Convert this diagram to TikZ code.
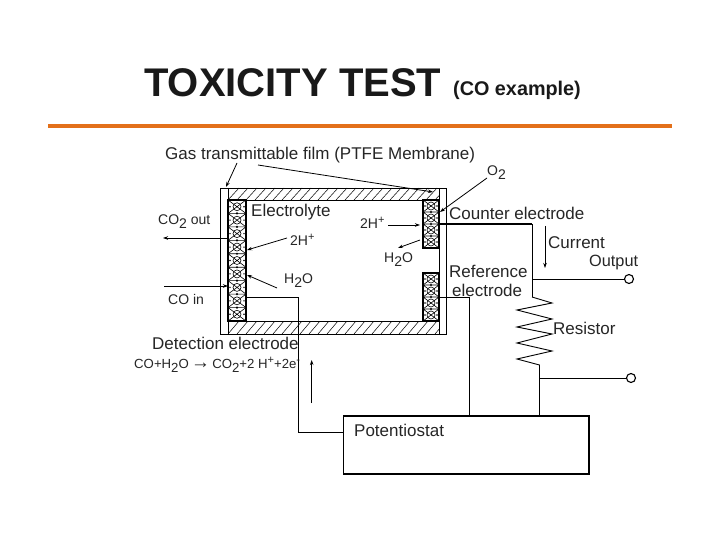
\documentclass[tikz,border=0pt]{standalone}
\usepackage{fontspec}
\setmainfont{Liberation Sans}
\usetikzlibrary{arrows.meta}
\definecolor{rulecol}{HTML}{E3701A}
\newcommand{\dn}[1]{\raisebox{-4pt}{#1}}
\newcommand{\up}[1]{\raisebox{5pt}{\fontsize{11}{11}\selectfont #1}}
\newcommand{\bigarrow}{\fontsize{19}{16}\selectfont\char"2192\fontsize{13.2}{16}\selectfont}
\tikzset{
  lbl/.style={anchor=west,inner sep=0pt,font=\fontsize{17}{18}\selectfont,text=black!85},
  lbls/.style={lbl,font=\fontsize{14}{16}\selectfont},
  wire/.style={draw=black,line width=0.9pt},
  heavy/.style={draw=black,line width=1.6pt},
  arr/.style={draw=black,line width=0.8pt,-{Stealth[length=5pt,width=3.5pt]}},
  term/.style={circle,draw=black,line width=1.1pt,fill=white,minimum size=9pt,inner sep=0pt},
  hatchline/.style={draw=black,line width=0.5pt},
  cellline/.style={draw=black,line width=0.6pt}
}
\newcommand{\electrode}[4]{% x1 x2 y1 y2
  \pgfmathsetmacro{\cellh}{(#4-#3)/round((#4-#3)/13)}
  \fill[white] (#1,#3) rectangle (#2,#4);
  \draw[line width=1.1pt] (#1,#3) rectangle (#2,#4);
  \pgfmathtruncatemacro{\ncell}{round((#4-#3)/13)-1}
  \foreach \i in {0,...,\ncell}{
    \pgfmathsetmacro{\ya}{#3+\i*\cellh}
    \pgfmathsetmacro{\yb}{\ya+\cellh}
    \pgfmathsetmacro{\xm}{(#1+#2)/2}
    \pgfmathsetmacro{\ym}{(\ya+\yb)/2}
    \draw[cellline] (#1,\ya) -- (#2,\yb) (#2,\ya) -- (#1,\yb) (#1,\ya) -- (#2,\ya);
    \draw[cellline] (\xm,\ym) circle (4);
    \fill (\xm,\ya) circle (1.2);
    \fill (#1+2,\ym) circle (0.8) (#2-2,\ym) circle (0.8);
  }
}
\newcommand{\hatchband}[4]{% x1 x2 y1 y2
  \begin{scope}
    \clip (#1,#3) rectangle (#2,#4);
    \foreach \x in {#1,\the\numexpr#1+9\relax,...,\the\numexpr#2+14\relax}
      \draw[hatchline] (\x,#4) -- (\x+11,#3);
  \end{scope}
  \draw[line width=0.9pt] (#1,#3) rectangle (#2,#4);
}
\begin{document}
\begin{tikzpicture}[x=1pt,y=-1pt]
\useasboundingbox (0,0) rectangle (720,540);
\fill[white] (0,0) rectangle (720,540);

% title
\node[anchor=base west,inner sep=0pt,font=\fontsize{40}{42}\selectfont\bfseries,text=black!90] (title) at (144,97) {TOXICITY TEST};
\node[anchor=base west,inner sep=0pt,font=\fontsize{19.8}{22}\selectfont\bfseries,text=black!90] (subtitle) at (453,96) {(CO example)};
\draw[draw=rulecol,line width=4pt] (48,126) -- (672,126);

% cell body
\hatchband{228}{439}{188}{200}
\hatchband{228}{439}{321}{334}
\draw[wire] (220.7,188) rectangle (446.7,334);
\draw[wire] (228,188) -- (228,334);
\draw[wire] (439,188) -- (439,334);
\electrode{228}{246}{200}{321}
\electrode{423}{439}{200}{248}
\electrode{423}{439}{273}{321}

% potentiostat and terminals
\node[draw=black,line width=1.5pt,minimum width=245.3pt,minimum height=58pt,anchor=north west,inner sep=0pt] (pot) at (342.7,415) {};
\node[lbl] (potlabel) at (354,430) {Potentiostat};
\node[term] (t1) at (629,279) {};
\node[term] (t2) at (631,378) {};

% wire coordinates
\coordinate (ctr) at (439,224);
\coordinate (ctrk) at (532,224);
\coordinate (junc1) at (532,279);
\coordinate (rtop) at (532,297);
\coordinate (rbot) at (539.5,365);
\coordinate (junc2) at (539.5,378);
\coordinate (pr) at (539.5,415);
\coordinate (ref) at (439,297);
\coordinate (refk) at (469,297);
\coordinate (refp) at (469,415);
\coordinate (det) at (246,297);
\coordinate (detk) at (298,297);
\coordinate (detb) at (298,432);
\coordinate (detp) at (342.7,432);

\draw[heavy] (ctr) -- (ctrk);
\draw[wire] (ctrk) -- (rtop);
\draw[wire] (junc1) -- (t1);
\draw[wire] (rtop) -- (552,303) -- (517,310) -- (552,319) -- (517,327) -- (552,334) -- (517,343) -- (552,351) -- (517,359) -- (rbot) -- (pr);
\draw[wire] (junc2) -- (t2);
\draw[wire] (ref) -- (refk) -- (refp);
\draw[wire] (det) -- (detk) -- (detb) -- (detp);

% labels
\node[lbl] (film) at (165,155) {Gas transmittable film (PTFE Membrane)};
\node[lbls] (o2) at (487,173) {O\dn{2}};
\node[lbl] (electrolyte) at (251,212) {Electrolyte};
\node[lbl] (counter) at (449,213) {Counter electrode};
\node[lbls] (co2out) at (158,222) {CO\dn{2} out};
\node[lbls] (hplusr) at (360,223) {2H\up{+}};
\node[lbls] (hplusl) at (290,240) {2H\up{+}};
\node[lbl] (current) at (548,243) {Current};
\node[lbl,font=\fontsize{16.3}{18}\selectfont] (output) at (589,263) {Output};
\node[lbls] (h2or) at (384,260) {H\dn{2}O};
\node[lbls] (h2ol) at (284,281) {H\dn{2}O};
\node[lbl] (refa) at (449,271) {Reference};
\node[lbl] (refb) at (452,290) {electrode};
\node[lbls] (coin) at (168,299) {CO in};
\node[lbl] (res) at (553,328) {Resistor};
\node[lbl] (detlab) at (152,343) {Detection electrode};
\node[lbl,font=\fontsize{13.2}{16}\selectfont] (eqn) at (134,365) {CO+H\dn{2}O\,\bigarrow\,CO\dn{2}+2 H\up{+}+2e\up{-}};

% leads and arrows
\coordinate (filla) at (237,163);
\coordinate (fillb) at (226,187);
\coordinate (fillc) at (258,165);
\coordinate (filld) at (433,192);
\draw[arr] (filla) -- (fillb);
\draw[arr] (fillc) -- (filld);
\coordinate (o2a) at (487,178);
\coordinate (o2b) at (440,212);
\draw[arr] (o2a) -- (o2b);
\coordinate (coa) at (228,238);
\coordinate (cob) at (163,238);
\draw[arr] (coa) -- (cob);
\coordinate (cia) at (164,286);
\coordinate (cib) at (228,286);
\draw[arr] (cia) -- (cib);
\coordinate (hla) at (287,238);
\coordinate (hlb) at (247,250);
\draw[arr] (hla) -- (hlb);
\coordinate (wla) at (277,288);
\coordinate (wlb) at (247,275);
\draw[arr] (wla) -- (wlb);
\coordinate (hra) at (388,225);
\coordinate (hrb) at (420,225);
\draw[arr] (hra) -- (hrb);
\coordinate (wra) at (420,240);
\coordinate (wrb) at (398,248);
\draw[arr] (wra) -- (wrb);
\coordinate (cura) at (545,226);
\coordinate (curb) at (545,268);
\draw[arr] (cura) -- (curb);
\coordinate (upa) at (311.7,403);
\coordinate (upb) at (311.7,360);
\draw[arr] (upa) -- (upb);
\end{tikzpicture}
\end{document}
